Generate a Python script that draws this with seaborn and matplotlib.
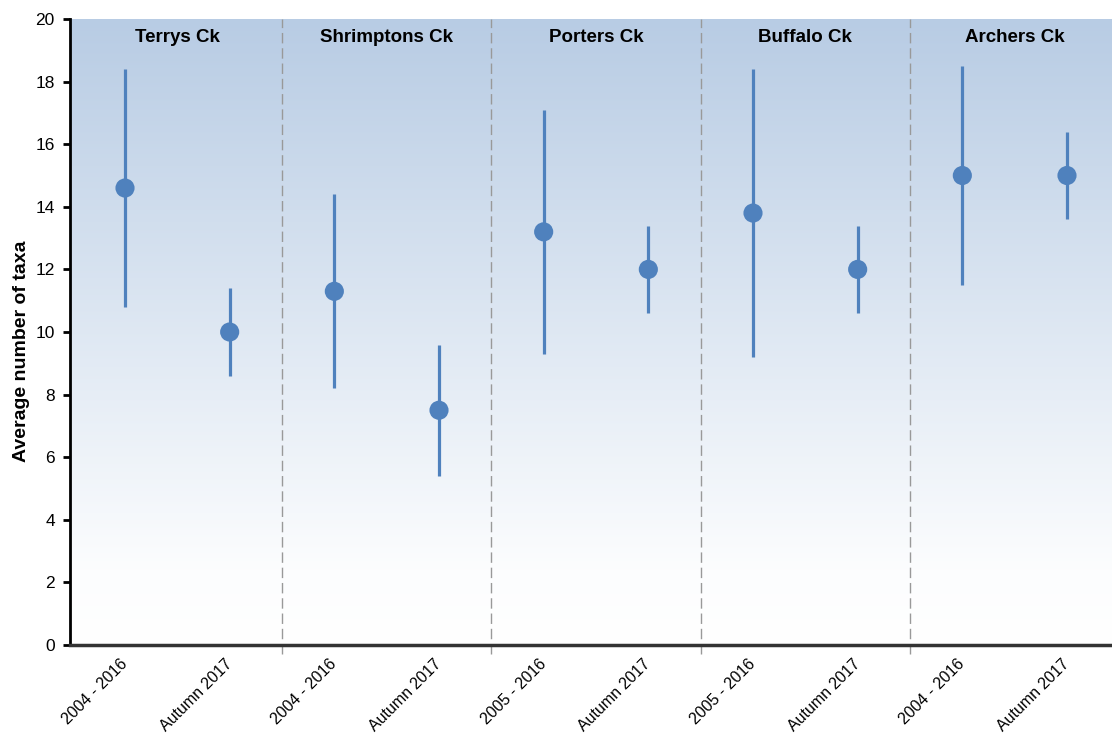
import numpy as np
import pandas as pd
import matplotlib
matplotlib.use("Agg")
import matplotlib.pyplot as plt
import seaborn as sns
from matplotlib.colors import LinearSegmentedColormap

# Sites and sampling periods
sites = ["Terrys Ck", "Shrimptons Ck", "Porters Ck", "Buffalo Ck", "Archers Ck"]
periods = ["2004 - 2016", "Autumn 2017",
           "2004 - 2016", "Autumn 2017",
           "2005 - 2016", "Autumn 2017",
           "2005 - 2016", "Autumn 2017",
           "2004 - 2016", "Autumn 2017"]

# Average number of taxa with lower / upper range
mean_taxa = [14.6, 10.0, 11.3, 7.5, 13.2, 12.0, 13.8, 12.0, 15.0, 15.0]
low_taxa = [10.8, 8.6, 8.2, 5.4, 9.3, 10.6, 9.2, 10.6, 11.5, 13.6]
high_taxa = [18.4, 11.4, 14.4, 9.6, 17.1, 13.4, 18.4, 13.4, 18.5, 16.4]

yticks = list(range(0, 21, 2))

df = pd.DataFrame({
    "pos": np.arange(len(periods)),
    "period": periods,
    "mean": mean_taxa,
    "low": low_taxa,
    "high": high_taxa,
})

sns.set_theme(style="white")
plt.rcParams["font.family"] = ["Liberation Sans", "DejaVu Sans"]
plt.rcParams["text.color"] = "black"
plt.rcParams["axes.labelcolor"] = "black"
plt.rcParams["xtick.color"] = "black"
plt.rcParams["ytick.color"] = "black"

fig = plt.figure(figsize=(11.12, 7.40), dpi=100)
ax = fig.add_axes([0.063, 0.1284, 0.937, 0.8459])

blue = "#4f81bd"
xmin, xmax = -0.525, 9.43

# Vertical gradient background
grad = LinearSegmentedColormap.from_list(
    "bg", [(0.0, "#ffffff"), (0.12, "#fcfdfe"), (1.0, "#b8cce4")])
ax.imshow(np.linspace(0, 1, 256).reshape(-1, 1), cmap=grad, origin="lower",
          extent=[xmin, xmax, 0, 20], aspect="auto", zorder=0)

# Range bars
ax.vlines(df["pos"], df["low"], df["high"], color=blue, linewidth=2.3, zorder=2)

# Mean markers
sns.scatterplot(data=df, x="pos", y="mean", ax=ax, color=blue, s=190,
                edgecolor="none", zorder=3, legend=False)

# Site separators and titles
for i, site in enumerate(sites):
    if i > 0:
        ax.axvline(2 * i - 0.5, ymin=-0.014, ymax=1, color="#999999",
                   linestyle=(0, (7.5, 3.5)), linewidth=1.0, zorder=1,
                   clip_on=False)
    ax.text(2 * i + 0.5, 19.4, site, ha="center", va="center",
            fontsize=13.5, fontweight="bold", color="black", zorder=4)

ax.set_xlim(xmin, xmax)
ax.set_ylim(0, 20)
ax.set_yticks(yticks)
ax.set_yticklabels([str(t) for t in yticks], fontsize=12.5)
ax.set_xticks(df["pos"])
ax.set_xticklabels(periods, rotation=45, ha="right", va="center",
                   rotation_mode="anchor", fontsize=11.5)
ax.set_xlabel("")
ax.set_ylabel("Average number of taxa", fontsize=14, fontweight="bold")
ax.yaxis.set_label_coords(-0.038, 0.47)

for side in ["top", "right"]:
    ax.spines[side].set_visible(False)
ax.spines["left"].set_color("black")
ax.spines["left"].set_linewidth(2)
ax.spines["bottom"].set_color("#333333")
ax.spines["bottom"].set_linewidth(2.5)
ax.spines["left"].set_zorder(5)
ax.spines["bottom"].set_zorder(5)

ax.tick_params(axis="y", direction="out", length=5, width=2, left=True, pad=6)
ax.tick_params(axis="x", length=0, pad=12)

fig.savefig("out.png", dpi=100)
